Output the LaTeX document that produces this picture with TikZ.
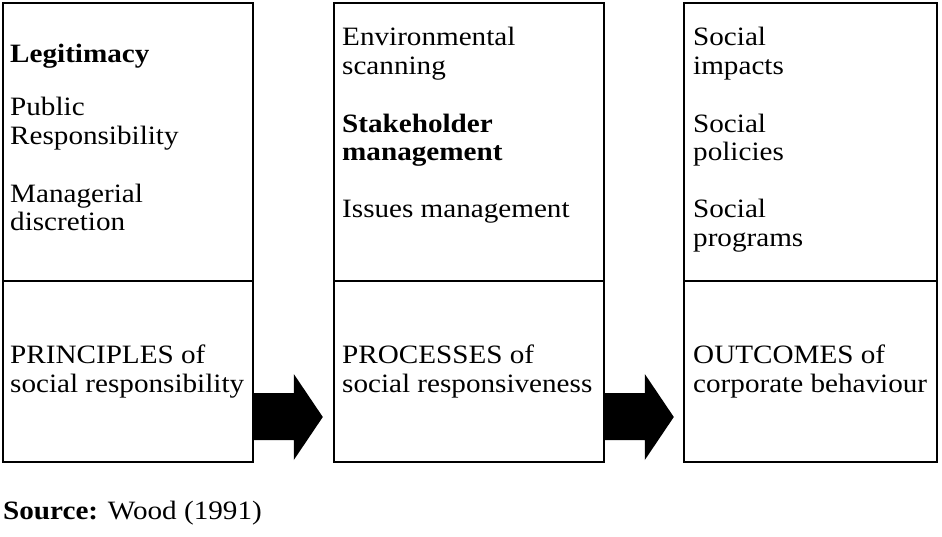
\documentclass[tikz,border=0pt]{standalone}
\usepackage{fontspec}
\setmainfont{Liberation Serif}[FakeStretch=1.1]
\begin{document}
\begin{tikzpicture}[x=1pt,y=-1pt,
  box/.style={draw,line width=1.8pt,rectangle,inner sep=0pt,anchor=north west},
  txt/.style={anchor=base west,inner sep=0pt,font=\fontsize{26.5}{30}\selectfont},
  blockarrow/.style={fill=black,draw=none}]
\useasboundingbox (0,0) rectangle (942,537);

% three two-part panels
\node[box,minimum width=250pt,minimum height=459pt] (p) at (2,2) {};
\node[box,minimum width=270pt,minimum height=459pt] (q) at (333,2) {};
\node[box,minimum width=253pt,minimum height=459pt] (r) at (683,2) {};
\draw[line width=1.8pt] (p.west |- 0,281) -- (p.east |- 0,281);
\draw[line width=1.8pt] (q.west |- 0,281) -- (q.east |- 0,281);
\draw[line width=1.8pt] (r.west |- 0,281) -- (r.east |- 0,281);

% block arrows between panels
\fill[blockarrow] (p.east |- 0,393) -- ++(40,0) -- ++(0,-19) -- ++(29,43)
  -- ++(-29,43) -- ++(0,-20) -- ++(-40,0) -- cycle;
\fill[blockarrow] (q.east |- 0,393) -- ++(40,0) -- ++(0,-19) -- ++(29,43)
  -- ++(-29,43) -- ++(0,-20) -- ++(-40,0) -- cycle;

% first panel
\node[txt] (p1) at (10,63) {\textbf{Legitimacy}};
\node[txt] (p2) at (10,116) {Public};
\node[txt] (p3) at (10,145) {Responsibility};
\node[txt] (p4) at (10,203) {Managerial};
\node[txt] (p5) at (10,231) {discretion};
\node[txt] (p6) at (10,363) {PRINCIPLES of};
\node[txt] (p7) at (10,392) {social responsibility};

% second panel
\node[txt] (q1) at (342,46) {Environmental};
\node[txt] (q2) at (342,75) {scanning};
\node[txt] (q3) at (342,133) {\textbf{Stakeholder}};
\node[txt] (q4) at (342,161) {\textbf{management}};
\node[txt] (q5) at (342,218) {Issues management};
\node[txt] (q6) at (342,363) {PROCESSES of};
\node[txt] (q7) at (342,392) {social responsiveness};

% third panel
\node[txt] (r1) at (693,46) {Social};
\node[txt] (r2) at (693,75) {impacts};
\node[txt] (r3) at (693,133) {Social};
\node[txt] (r4) at (693,161) {policies};
\node[txt] (r5) at (693,218) {Social};
\node[txt] (r6) at (693,247) {programs};
\node[txt] (r7) at (693,363) {OUTCOMES of};
\node[txt] (r8) at (693,392) {corporate behaviour};

% source line
\node[txt] (src) at (3,519) {\textbf{Source:} Wood (1991)};
\end{tikzpicture}
\end{document}
